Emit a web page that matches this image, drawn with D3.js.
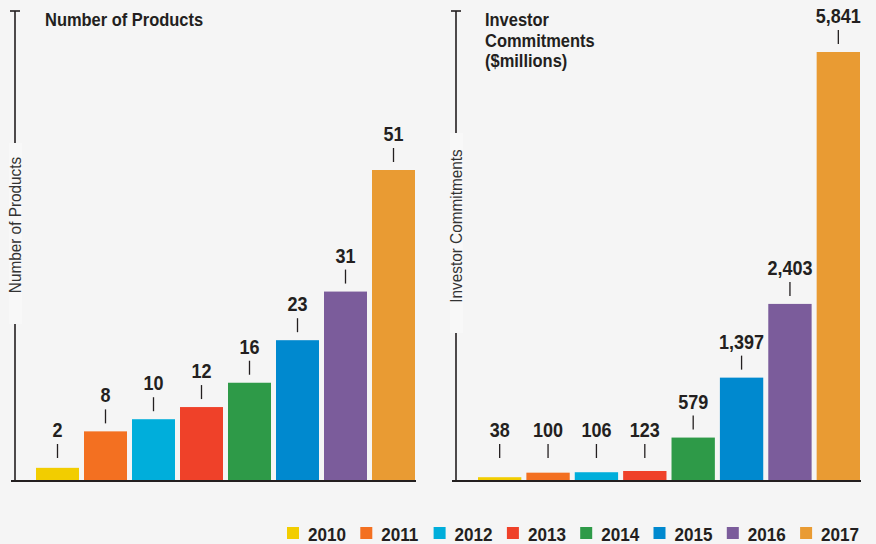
<!DOCTYPE html>
<html><head><meta charset="utf-8">
<script src="https://cdn.jsdelivr.net/npm/d3@7/dist/d3.min.js"></script>
<style>
html,body{margin:0;padding:0;background:#f5f5f5;}
svg{display:block;font-family:"Liberation Sans",Arial,sans-serif;}
</style></head>
<body>
<svg id="chart" width="876" height="544"></svg>
<script>
const years = ["2010","2011","2012","2013","2014","2015","2016","2017"];
const colors = ["#f2cd00","#f37021","#00aedb","#ef4129","#2e9a48","#0089cf","#7b5c9b","#e99b33"];
const products = [2, 8, 10, 12, 16, 23, 31, 51];
const commitments = [38, 100, 106, 123, 579, 1397, 2403, 5841];
const titleLeft = ["Number of Products"];
const titleRight = ["Investor", "Commitments", "($millions)"];
const axisLeft = "Number of Products";
const axisRight = "Investor Commitments";

const svg = d3.select("#chart");
const ink = "#231f20";
const base = 480;
const fmt = d3.format(",");

function panel(cfg){
  const g = svg.append("g");
  const x = d3.scaleBand().domain(years).range(cfg.xr).paddingInner(5/48).paddingOuter(0);
  const y = d3.scaleLinear().domain([0, d3.max(cfg.values)]).range([base, cfg.top]);
  g.append("line").attr("x1",cfg.ax).attr("x2",cfg.ax).attr("y1",11).attr("y2",base)
    .attr("stroke",ink).attr("stroke-width",1.6);
  g.append("line").attr("x1",cfg.ax-5).attr("x2",cfg.ax+5).attr("y1",11).attr("y2",11)
    .attr("stroke",ink).attr("stroke-width",1.6);
  g.append("rect").attr("x",cfg.ax-6).attr("y",cfg.patch[0]).attr("width",13)
    .attr("height",cfg.patch[1]-cfg.patch[0]).attr("fill","#f8f8f8");
  g.append("text").attr("transform",`translate(${cfg.ax+5.5},${cfg.lc}) rotate(-90) scale(0.93,1)`)
    .attr("text-anchor","middle").attr("font-size",16.5).attr("fill","#333")
    .text(cfg.axisLabel);
  g.selectAll("rect.bar").data(cfg.values).join("rect").attr("class","bar")
    .attr("x",(d,i)=>x(years[i])).attr("width",x.bandwidth())
    .attr("y",d=>y(d)).attr("height",d=>base-y(d))
    .attr("fill",(d,i)=>colors[i]);
  g.append("line").attr("x1",cfg.ax-4).attr("x2",cfg.xr[1]+1).attr("y1",base+1).attr("y2",base+1)
    .attr("stroke",ink).attr("stroke-width",2);
  const ly = d => Math.min(y(d)-29, base-43);
  g.selectAll("text.val").data(cfg.values).join("text").attr("class","val")
    .attr("transform",(d,i)=>`translate(${x(years[i])+x.bandwidth()/2},${ly(d)}) scale(0.9,1)`)
    .attr("text-anchor","middle").attr("font-size",20).attr("font-weight","bold").attr("fill",ink)
    .text(d=>fmt(d));
  g.selectAll("line.tk").data(cfg.values).join("line").attr("class","tk")
    .attr("x1",(d,i)=>x(years[i])+x.bandwidth()/2).attr("x2",(d,i)=>x(years[i])+x.bandwidth()/2)
    .attr("y1",d=>ly(d)+7).attr("y2",d=>ly(d)+21)
    .attr("stroke",ink).attr("stroke-width",1.3);
  g.selectAll("text.ttl").data(cfg.title).join("text").attr("class","ttl")
    .attr("transform",(d,i)=>`translate(${cfg.tx},${26+i*20.5}) scale(0.9,1)`)
    .attr("font-size",18.3).attr("font-weight","bold").attr("fill",ink).text(d=>d);
}

panel({values:products, xr:[36,415], top:170, ax:15, patch:[143,324], lc:225,
  axisLabel:axisLeft, title:titleLeft, tx:45});
panel({values:commitments, xr:[478,860], top:52, ax:456, patch:[133,333], lc:226,
  axisLabel:axisRight, title:titleRight, tx:485});

const lg = svg.append("g").selectAll("g").data(years).join("g")
  .attr("transform",(d,i)=>`translate(${287+i*73.3},527)`);
lg.append("rect").attr("width",12).attr("height",12).attr("fill",(d,i)=>colors[i]);
lg.append("text").attr("transform","translate(21,13.5) scale(0.9,1)").attr("font-size",19).attr("font-weight","bold")
  .attr("fill",ink).text(d=>d);
</script>
</body></html>
